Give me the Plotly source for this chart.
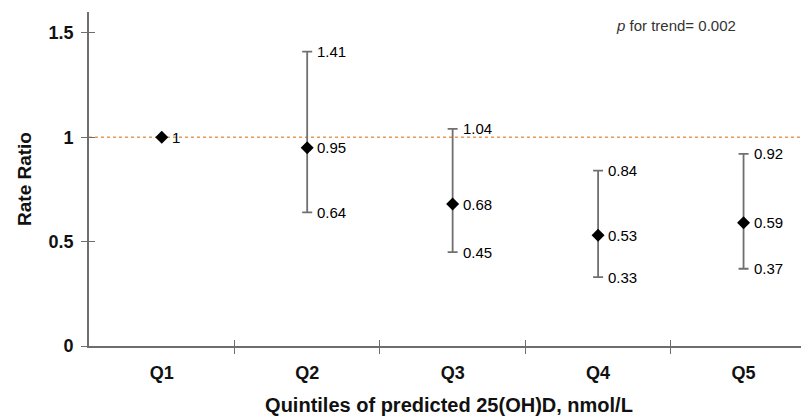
import plotly.graph_objects as go

categories = ["Q1", "Q2", "Q3", "Q4", "Q5"]
rate_ratio = [1.00, 0.95, 0.68, 0.53, 0.59]
ci_lower = [None, 0.64, 0.45, 0.33, 0.37]
ci_upper = [None, 1.41, 1.04, 0.84, 0.92]
y_tick_vals = [0, 0.5, 1, 1.5]
y_tick_text = ["0", "0.5", "1", "1.5"]
reference_value = 1.0
trend_text = "<i>p</i> for trend= 0.002"

xpos = list(range(len(categories)))
err_plus = [(u - m) if u is not None else 0 for u, m in zip(ci_upper, rate_ratio)]
err_minus = [(m - l) if l is not None else 0 for l, m in zip(ci_lower, rate_ratio)]

FONT = "Arial, Liberation Sans, sans-serif"
AX = "#6e6e6e"

# page body has an 8px default margin, so the figure is drawn 8px smaller
W, H = 801, 409
ML, MT, MB = 81, 4, 71

fig = go.Figure()

# reference line at 1
fig.add_trace(go.Scatter(
    x=[-0.5, 4.6], y=[reference_value, reference_value], mode="lines",
    line=dict(color="#e39a5a", width=1.4, dash="dot"),
    hoverinfo="skip", showlegend=False, cliponaxis=True))

fig.add_trace(go.Scatter(
    x=xpos, y=rate_ratio, mode="markers",
    marker=dict(symbol="diamond", size=10, color="black"),
    error_y=dict(type="data", symmetric=False, array=err_plus, arrayminus=err_minus,
                 color="#707070", thickness=1.8, width=5),
    showlegend=False))

annotations = []
def lab(x, y, txt):
    annotations.append(dict(x=x, y=y, xref="x", yref="y", text=txt, showarrow=False,
                            xanchor="left", yanchor="middle", xshift=8,
                            font=dict(family=FONT, size=15, color="#000")))

for i, m in enumerate(rate_ratio):
    lab(xpos[i], m, f"{m:g}")
    if ci_upper[i] is not None:
        lab(xpos[i], ci_upper[i], f"{ci_upper[i]:.2f}")
        lab(xpos[i], ci_lower[i], f"{ci_lower[i]:.2f}")

plot_h = H - MT - MB
annotations.append(dict(x=(676 - 8 - ML) / (W - ML), y=(MT + plot_h - (25 - 8)) / plot_h,
                        xref="paper", yref="paper", text=trend_text,
                        showarrow=False, xanchor="center", yanchor="middle",
                        font=dict(family=FONT, size=15, color="#333")))

xr = [-0.5, 4.45]
yr = [0, 1.6]

fig.update_layout(
    width=W, height=H,
    margin=dict(l=ML, r=0, t=MT, b=MB),
    paper_bgcolor="white", plot_bgcolor="white",
    font=dict(family=FONT, color="#111"),
    annotations=annotations,
    xaxis=dict(range=xr, tickvals=xpos, ticktext=categories, ticks="", automargin=False,
               showline=True, linecolor=AX, linewidth=1.6, showgrid=False, zeroline=False,
               tickfont=dict(family=FONT, size=18, color="#111", weight="bold"),
               ticklabelstandoff=10,
               minor=dict(tickvals=[0.5, 1.5, 2.5, 3.5], ticks="outside", ticklen=6,
                          tickcolor=AX, tickwidth=1.3, showgrid=False),
               title=dict(text="<b>Quintiles of predicted 25(OH)D, nmol/L</b>",
                          font=dict(family=FONT, size=20, color="#111"), standoff=16)),
    xaxis2=dict(range=xr, overlaying="x", anchor="y", tickvals=[0.5, 1.5, 2.5, 3.5],
                ticks="inside", ticklen=6, tickcolor=AX, tickwidth=1.3, automargin=False,
                showticklabels=False, showline=False, showgrid=False, zeroline=False),
    yaxis=dict(range=yr, tickvals=y_tick_vals, ticktext=y_tick_text, ticks="outside",
               ticklen=6, tickcolor=AX, tickwidth=1.3, automargin=False,
               showline=True, linecolor=AX, linewidth=1.6, showgrid=False, zeroline=False,
               tickfont=dict(family=FONT, size=18, color="#111", weight="bold"),
               ticklabelstandoff=4,
               title=dict(text="<b>Rate Ratio</b>", font=dict(family=FONT, size=19, color="#111"),
                          standoff=12)),
    yaxis2=dict(range=yr, overlaying="y", anchor="x", tickvals=y_tick_vals, automargin=False,
                ticks="inside", ticklen=6, tickcolor=AX, tickwidth=1.3,
                showticklabels=False, showline=False, showgrid=False, zeroline=False),
)

# invisible traces to anchor overlay axes
fig.add_trace(go.Scatter(x=[0], y=[0], xaxis="x2", yaxis="y", mode="markers",
                         marker=dict(opacity=0), hoverinfo="skip", showlegend=False))
fig.add_trace(go.Scatter(x=[0], y=[0], xaxis="x", yaxis="y2", mode="markers",
                         marker=dict(opacity=0), hoverinfo="skip", showlegend=False))

fig.write_html("out.html")
